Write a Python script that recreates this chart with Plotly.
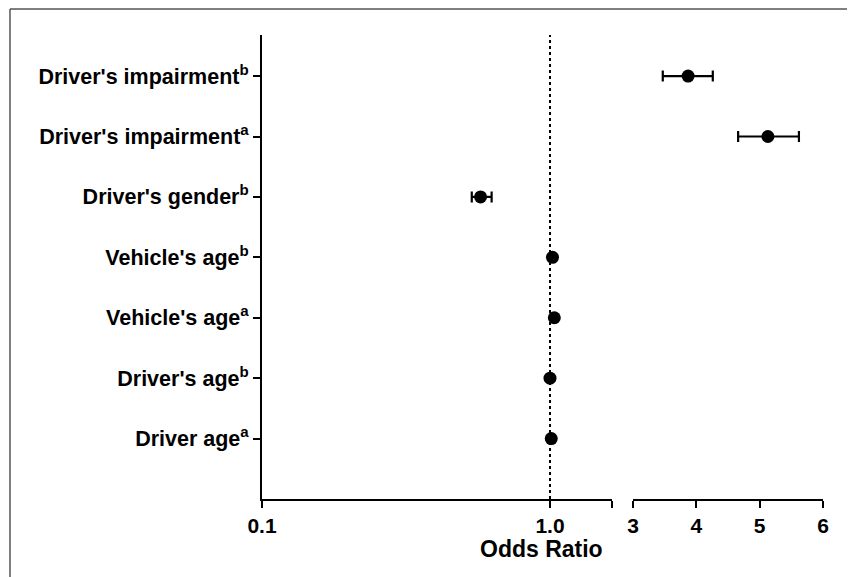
import plotly.graph_objects as go
import math

# ---- data ----
categories = ["Driver age<sup>a</sup>", "Driver's age<sup>b</sup>", "Vehicle's age<sup>a</sup>",
              "Vehicle's age<sup>b</sup>", "Driver's gender<sup>b</sup>",
              "Driver's impairment<sup>a</sup>", "Driver's impairment<sup>b</sup>"]
odds_ratio = [1.01, 1.00, 1.035, 1.02, 0.574, 5.13, 3.87]
ci_low =     [1.00, 0.99, 1.02, 1.01, 0.535, 4.66, 3.47]
ci_high =    [1.02, 1.01, 1.05, 1.03, 0.627, 5.62, 4.26]
left_ticks = [0.1, 1.0]
left_tick_labels = ["0.1", "1.0"]
right_ticks = [3, 4, 5, 6]
left_max = 1.635
break_at = 2.0

ypos = list(range(len(categories)))

# plot-area geometry in figure pixels (page offset of 8px removed)
L, R, T, B = 254, 815, 27, 491
PW, PH = R - L, B - T

def px(x):
    return (x - L) / PW

def py(y):
    return (B - y) / PH

fig = go.Figure()

# reference line at OR = 1
fig.add_trace(go.Scatter(x=[1, 1], y=[-1, 6.68], mode="lines", xaxis="x", yaxis="y",
                         line=dict(color="black", width=2, dash="dot"),
                         hoverinfo="skip", showlegend=False))

for seg, axis in (("left", "x"), ("right", "x2")):
    xs, ys, ep, em = [], [], [], []
    for i, v in enumerate(odds_ratio):
        if (seg == "left") == (v < break_at):
            xs.append(v)
            ys.append(ypos[i])
            ep.append(ci_high[i] - v)
            em.append(v - ci_low[i])
    fig.add_trace(go.Scatter(
        x=xs, y=ys, mode="markers", xaxis=axis, yaxis="y",
        marker=dict(color="black", size=13),
        error_x=dict(type="data", symmetric=False, array=ep, arrayminus=em,
                     color="black", thickness=2.2, width=5.5),
        showlegend=False))

FAM = "Liberation Sans, Arial, sans-serif"
xtickfont = dict(family=FAM, size=21, color="black", weight="bold")

fig.update_layout(
    width=855, height=577,
    margin=dict(l=L, r=855 - R, t=T, b=577 - B),
    paper_bgcolor="white", plot_bgcolor="white",
    font=dict(family=FAM, size=17, color="black"),
    xaxis=dict(type="log", domain=[0, px(611.5 - 8)], range=[-1, math.log10(left_max)],
               tickvals=left_ticks + [left_max], ticktext=left_tick_labels + [""],
               showline=True, linecolor="black", linewidth=2,
               ticks="outside", ticklen=7, tickwidth=2, tickcolor="black",
               showgrid=False, zeroline=False, tickfont=xtickfont, anchor="y"),
    xaxis2=dict(domain=[px(633 - 8), 1], range=[3, 6], tickvals=right_ticks,
                showline=True, linecolor="black", linewidth=2,
                ticks="outside", ticklen=7, tickwidth=2, tickcolor="black",
                showgrid=False, zeroline=False, tickfont=xtickfont, anchor="y"),
    yaxis=dict(range=[-1, 6.68], tickvals=ypos, ticktext=categories,
               showline=True, linecolor="black", linewidth=2,
               ticks="outside", ticklen=7, tickwidth=2, tickcolor="black",
               showgrid=False, zeroline=False,
               tickfont=dict(family=FAM, size=21.5, color="black", weight="bold")),
)

fig.add_annotation(text="<b>Odds Ratio</b>", xref="paper", yref="paper",
                   x=px(541.7 - 8), y=py(549 - 8), xanchor="center", yanchor="middle",
                   showarrow=False, font=dict(family=FAM, size=23, color="black"))

# outer frame lines (top and left)
fig.add_shape(type="line", xref="paper", yref="paper", x0=px(2), x1=2,
              y0=py(1), y1=py(1), line=dict(color="#555555", width=1.5))
fig.add_shape(type="line", xref="paper", yref="paper", x0=px(2), x1=px(2),
              y0=py(1), y1=-1, line=dict(color="#555555", width=1.5))

fig.write_html("out.html")
